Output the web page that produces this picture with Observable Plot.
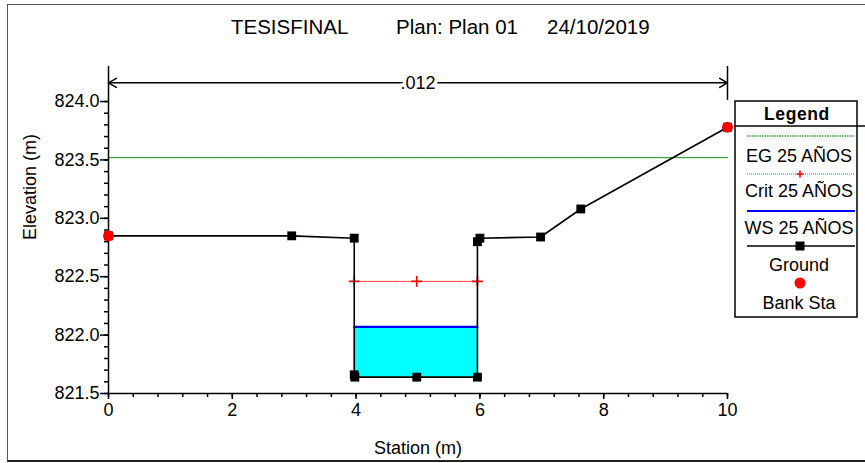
<!DOCTYPE html>
<html><head><meta charset="utf-8">
<script src="https://cdn.jsdelivr.net/npm/d3@7"></script>
<script src="https://cdn.jsdelivr.net/npm/@observablehq/plot@0.6"></script>
<style>
body{margin:0;background:#fff;}
#wrap{position:relative;width:865px;height:463px;overflow:hidden;font-family:"Liberation Sans",Arial,sans-serif;background:#fff;}
#frame{position:absolute;left:7px;top:4px;width:880px;height:455px;border-left:1.5px solid #555;border-top:1.5px solid #555;border-bottom:2.5px solid #222;}
#title span{position:absolute;top:15px;font-size:20.5px;white-space:pre;color:#000;}
#plot{position:absolute;left:0;top:0;}
#legend{position:absolute;left:0;top:0;}
</style></head>
<body>
<div id="wrap">
  <div id="frame"></div>
  <div id="plot"></div>
  <div id="title"></div>
  <svg id="legend" width="865" height="463"></svg>
</div>
<script>
// ---- data ----
const titleParts = ["TESISFINAL", "Plan: Plan 01", "24/10/2019"];
const groundStation = [0, 2.96, 3.97, 3.97, 3.98, 4.98, 5.96, 5.96, 6.0, 6.98, 7.63, 10];
const groundElev    = [822.85, 822.85, 822.83, 821.66, 821.64, 821.64, 821.64, 822.80, 822.83, 822.84, 823.08, 823.78];
const bankStation = [0, 10];
const bankElev    = [822.85, 823.78];
const wsStation = [3.97, 5.96];
const wsElev = 822.07;
const critStation = [3.97, 4.98, 5.96];
const critElev = 822.46;
const egStation = [0, 10];
const egElev = 823.52;
const nStation = [0, 10];
const nValue = ".012";
const xTicks = [0, 2, 4, 6, 8, 10];
const yTicks = [821.5, 822.0, 822.5, 823.0, 823.5, 824.0];
const legendLabels = ["EG 25 AÑOS", "Crit 25 AÑOS", "WS 25 AÑOS", "Ground", "Bank Sta"];

// ---- derived tables ----
const ground = groundStation.map((x, i) => ({x, y: groundElev[i]}));
const banks = bankStation.map((x, i) => ({x, y: bankElev[i]}));
const water = ground.filter(d => d.x >= wsStation[0] && d.x <= wsStation[1] && d.y < wsElev);
const ws = wsStation.map(x => ({x, y: wsElev}));
const crit = critStation.map(x => ({x, y: critElev}));
const eg = egStation.map(x => ({x, y: egElev}));
const xMinor = d3.range(0, 10.0001, 0.4);
const yMinor = d3.range(821.5, 824.0001, 0.1);
const nMid = (nStation[0] + nStation[1]) / 2;
const nLevel = 824.16;
const yTop = 824.3;

const EG_COLOR = "#2fa82f";
const FONT = "Liberation Sans, Arial, sans-serif";
const chart = Plot.plot({
  width: 865, height: 463,
  marginLeft: 108, marginRight: 138, marginTop: 66, marginBottom: 70,
  style: {fontFamily: FONT, fontSize: "18px", background: "transparent", color: "#000"},
  x: {domain: [0, 10], axis: null},
  y: {domain: [821.5, yTop], axis: null},
  marks: [
    Plot.areaY(water, {x: "x", y1: "y", y2: wsElev, fill: "#00ffff", curve: "linear"}),
    Plot.line(ws, {x: "x", y: "y", stroke: "#0000ff", strokeWidth: 2.2}),
    Plot.line(crit, {x: "x", y: "y", stroke: "#ff3030", strokeWidth: 1, strokeDasharray: "1,1"}),
    Plot.dot(crit, {x: "x", y: "y", symbol: "plus", r: 3.6, stroke: "#ff0000", strokeWidth: 1.6}),
    Plot.line(eg, {x: "x", y: "y", stroke: EG_COLOR, strokeWidth: 1.3, strokeDasharray: "1.5,1"}),
    Plot.line(ground, {x: "x", y: "y", stroke: "#000", strokeWidth: 1.6}),
    Plot.dot(ground, {x: "x", y: "y", symbol: "square", r: 5, fill: "#000", stroke: null}),
    // axes
    Plot.ruleX([0], {y1: 821.5, y2: yTop, stroke: "#000", strokeWidth: 1.5}),
    Plot.ruleY([821.5], {x1: 0, x2: 10, stroke: "#000", strokeWidth: 1.5}),
    Plot.axisY(yMinor, {tickSize: 4, tickFormat: () => "", label: null, strokeWidth: 1.5}),
    Plot.axisY(yTicks, {tickSize: 8, tickPadding: 1, tickFormat: d => d.toFixed(1), label: null, fontSize: 18, strokeWidth: 1.5}),
    Plot.axisX(xMinor, {tickSize: 4, tickFormat: () => "", label: null, strokeWidth: 1.5}),
    Plot.axisX(xTicks, {tickSize: 6, tickPadding: 4, tickFormat: d => String(d), label: null, fontSize: 18, strokeWidth: 1.5}),
    Plot.text(["Elevation (m)"], {frameAnchor: "left", dx: -78, dy: 10, rotate: -90, fontSize: 18}),
    Plot.text(["Station (m)"], {frameAnchor: "bottom", dy: 60, fontSize: 18}),
    // roughness dimension line
    Plot.ruleX([nStation[1]], {y1: 824.01, y2: yTop, stroke: "#000", strokeWidth: 1.5}),
    Plot.arrow(nStation.map(x => ({x1: nMid, x2: x})), {x1: "x1", x2: "x2", y1: nLevel, y2: nLevel, stroke: "#000", strokeWidth: 1.5, headLength: 9}),
    Plot.text([nValue], {x: nMid, y: nLevel, fill: "#000", stroke: "#fff", strokeWidth: 7, fontSize: 18}),
    Plot.dot(banks, {x: "x", y: "y", r: 5.5, fill: "#ff0000", stroke: null})
  ]
});
document.getElementById("plot").appendChild(chart);

// title
const titleLeft = [231, 396, 547];
d3.select("#title").selectAll("span").data(titleParts).join("span")
  .style("left", (d, i) => titleLeft[i] + "px").text(d => d);

// legend
const lg = d3.select("#legend").attr("font-family", FONT);
lg.append("rect").attr("x", 735).attr("y", 101).attr("width", 122).attr("height", 216)
  .attr("fill", "#fff").attr("stroke", "#000").attr("stroke-width", 1.5);
lg.append("line").attr("x1", 735).attr("x2", 865).attr("y1", 126).attr("y2", 126).attr("stroke", "#000").attr("stroke-width", 1.5);
lg.append("text").attr("x", 797).attr("y", 120).attr("text-anchor", "middle").attr("font-weight", "bold").attr("font-size", 17.5).attr("letter-spacing", 0.6).text("Legend");
const symY = [136, 174, 211, 246, 283];
const txtY = [162, 197, 234, 271, 309];
const lineStyles = [
  {stroke: EG_COLOR, w: 1.3, dash: "1.5,1"},
  {stroke: "#ff3030", w: 1, dash: "1,1"},
  {stroke: "#0000ff", w: 2.2, dash: null},
  {stroke: "#000", w: 1.6, dash: null},
  null
];
legendLabels.forEach((lab, i) => {
  const s = lineStyles[i];
  if (s) lg.append("line").attr("x1", 747).attr("x2", 855).attr("y1", symY[i]).attr("y2", symY[i])
    .attr("stroke", s.stroke).attr("stroke-width", s.w).attr("stroke-dasharray", s.dash);
  if (i === 1) lg.append("path").attr("d", `M796.5,${symY[i]}h7M800,${symY[i]-3.5}v7`).attr("stroke", "#ff0000").attr("stroke-width", 1.6);
  if (i === 3) lg.append("rect").attr("x", 795.5).attr("y", symY[i] - 4.5).attr("width", 9).attr("height", 9).attr("fill", "#000");
  if (i === 4) lg.append("circle").attr("cx", 800).attr("cy", symY[i]).attr("r", 5.5).attr("fill", "#ff0000");
  lg.append("text").attr("x", 799).attr("y", txtY[i]).attr("text-anchor", "middle").attr("font-size", 18).text(lab);
});
</script>
</body></html>
